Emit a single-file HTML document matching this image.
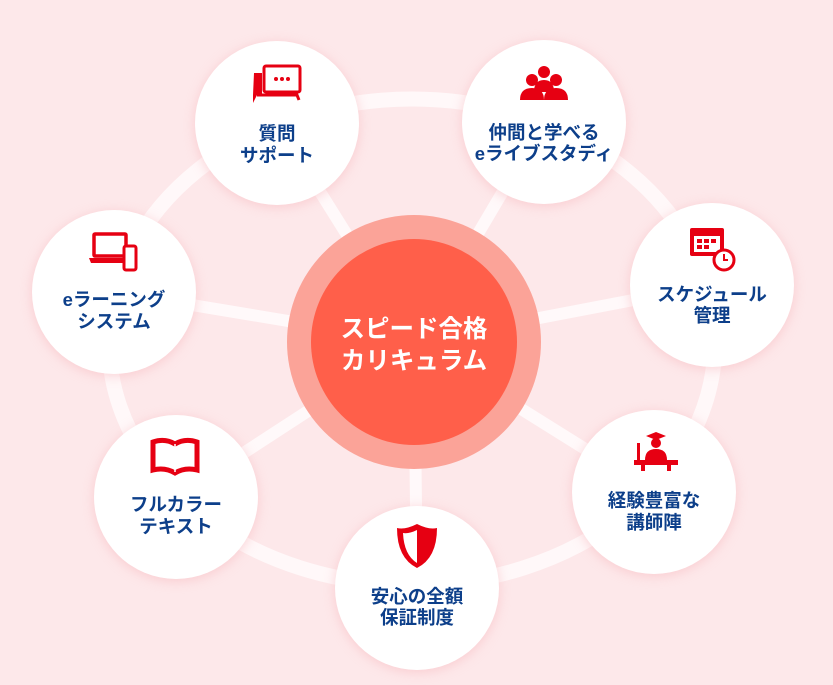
<!DOCTYPE html>
<html><head><meta charset="utf-8"><style>
html,body{margin:0;padding:0;background:#fde8ea;}
svg{display:block}
text{font-family:"Liberation Sans","Noto Sans CJK JP",sans-serif;font-weight:bold;}
</style></head><body>
<svg width="833" height="685" viewBox="0 0 833 685" xmlns="http://www.w3.org/2000/svg">
<defs>
<filter id="sh" x="-30%" y="-30%" width="160%" height="160%"><feGaussianBlur stdDeviation="6"/></filter>
</defs>
<rect width="833" height="685" fill="#fde8ea"/>
<ellipse cx="412" cy="342" rx="303" ry="243" fill="none" stroke="#fff" stroke-opacity="0.7" stroke-width="15"/>
<g stroke="#fff" stroke-opacity="0.75" stroke-width="12">
<line x1="414" y1="342" x2="277" y2="123"/>
<line x1="414" y1="342" x2="544" y2="122"/>
<line x1="414" y1="342" x2="712" y2="285"/>
<line x1="414" y1="342" x2="654" y2="492"/>
<line x1="414" y1="342" x2="417" y2="588"/>
<line x1="414" y1="342" x2="176" y2="497"/>
<line x1="414" y1="342" x2="114" y2="292"/>
</g>
<g fill="#f7b8bd" opacity="0.6" filter="url(#sh)">
<circle cx="277" cy="125" r="82"/><circle cx="544" cy="124" r="82"/><circle cx="712" cy="287" r="82"/>
<circle cx="654" cy="494" r="82"/><circle cx="417" cy="590" r="82"/><circle cx="176" cy="499" r="82"/><circle cx="114" cy="294" r="82"/>
</g>
<g fill="#fff">
<circle cx="277" cy="123" r="82"/><circle cx="544" cy="122" r="82"/><circle cx="712" cy="285" r="82"/>
<circle cx="654" cy="492" r="82"/><circle cx="417" cy="588" r="82"/><circle cx="176" cy="497" r="82"/><circle cx="114" cy="292" r="82"/>
</g>
<circle cx="414" cy="342" r="127" fill="#fba398"/>
<circle cx="414" cy="342" r="103" fill="#ff5f4a"/>
<text x="414" y="337" font-size="24.5" fill="#fff" text-anchor="middle">スピード合格</text>
<text x="414" y="369" font-size="24.5" fill="#fff" text-anchor="middle">カリキュラム</text>

<g fill="#0d3f8a" font-size="18.5" text-anchor="middle">
<text x="277" y="140">質問</text><text x="277" y="162">サポート</text>
<text x="544" y="139">仲間と学べる</text><text x="544" y="160">eライブスタディ</text>
<text x="712" y="301">スケジュール</text><text x="712" y="322">管理</text>
<text x="654" y="507">経験豊富な</text><text x="654" y="529">講師陣</text>
<text x="417" y="603">安心の全額</text><text x="417" y="624">保証制度</text>
<text x="176" y="511">フルカラー</text><text x="176" y="533">テキスト</text>
<text x="114" y="306">eラーニング</text><text x="114" y="328">システム</text>
</g>

<g fill="#e60012" stroke="#e60012">
<rect x="264" y="66" width="36" height="26" rx="2" fill="none" stroke-width="3"/>
<circle cx="276" cy="79" r="2" stroke="none"/><circle cx="282" cy="79" r="2" stroke="none"/><circle cx="288" cy="79" r="2" stroke="none"/>
<path d="M254 73 h8 v22 h-5 l-4 8 0-8 z" stroke="none"/>
<path d="M257 95 h40 l2 5" fill="none" stroke-width="3"/>
<g stroke="none">
<circle cx="544" cy="72" r="6"/><path d="M534 92 q0-12 10-12 q10 0 10 12z"/>
<circle cx="532" cy="80" r="6"/><path d="M520 100 q0-12 12-12 q12 0 12 12z"/>
<circle cx="556" cy="80" r="6"/><path d="M544 100 q0-12 12-12 q12 0 12 12z"/>
</g>
<rect x="690" y="228" width="34" height="28" rx="2" stroke="none"/>
<rect x="694" y="236" width="26" height="16" fill="#fff" stroke="none"/>
<g stroke="none"><rect x="697" y="239" width="5" height="4"/><rect x="704" y="239" width="5" height="4"/><rect x="711" y="239" width="5" height="4"/><rect x="697" y="245" width="5" height="4"/><rect x="704" y="245" width="5" height="4"/></g>
<circle cx="724" cy="260" r="10" fill="#fff" stroke-width="3"/>
<path d="M724 254 v6 h4" fill="none" stroke-width="2"/>
<g stroke="none">
<path d="M646 436 l10-4 10 4-10 4z"/><circle cx="656" cy="443" r="5"/>
<path d="M645 460 q0-11 11-11 q11 0 11 11z"/>
<rect x="637" y="443" width="3" height="17"/>
<rect x="634" y="460" width="44" height="5"/>
<rect x="641" y="465" width="4" height="6"/><rect x="667" y="465" width="4" height="6"/>
</g>
<path d="M417 524 q-12 6-20 4 q0 30 20 40 q20-10 20-40 q-8 2-20-4z" stroke="none"/>
<path d="M417 530 q-8 4-14 3 q1 22 14 30z" fill="#fff" stroke="none"/>
<path d="M153 442 q12-4 22 2 q10-6 22-2 v28 q-12-3-22 3 q-10-6-22-3z" fill="none" stroke-width="5"/>
<line x1="175" y1="444" x2="175" y2="472" stroke="#fff" stroke-width="1.5"/>
<rect x="94" y="234" width="32" height="22" rx="1" fill="none" stroke-width="3.5"/>
<path d="M89 258 h36 v5 h-34z" stroke="none"/>
<rect x="124" y="246" width="12" height="24" rx="2" fill="#fff" stroke-width="3"/>
</g>
</svg>
</body></html>
